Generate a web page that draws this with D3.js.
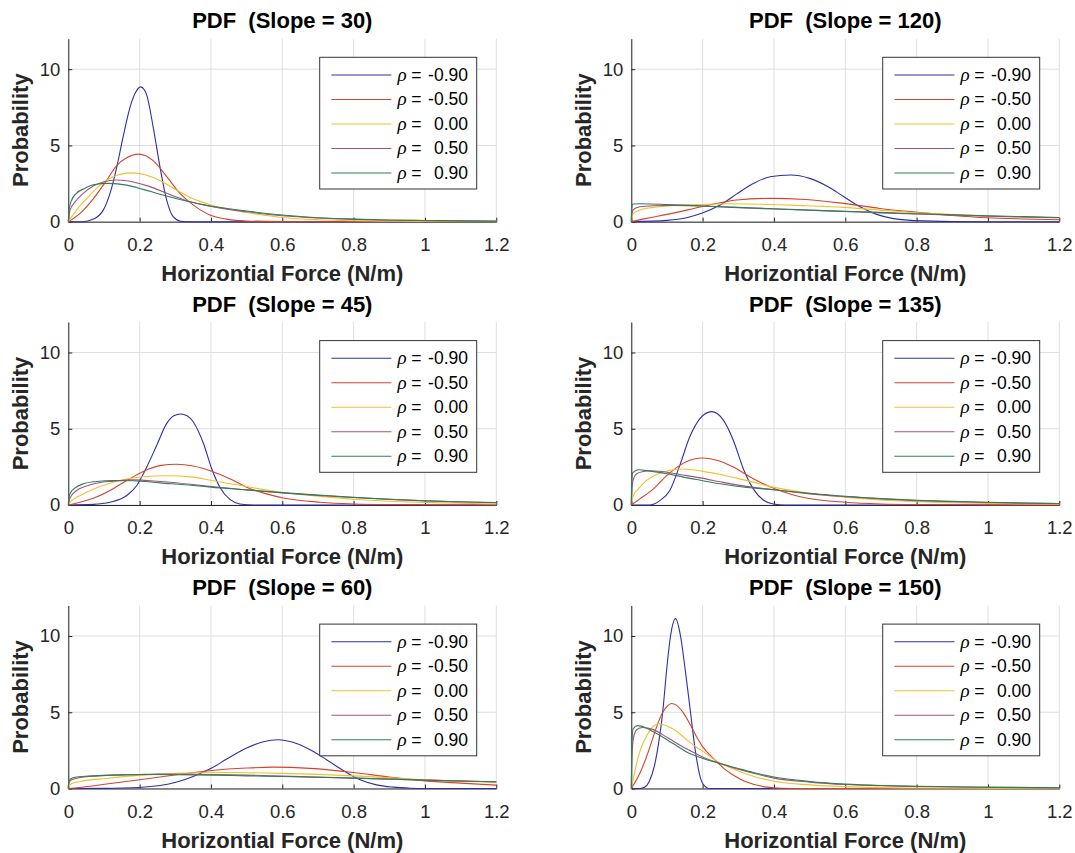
<!DOCTYPE html>
<html>
<head>
<meta charset="utf-8">
<script src="https://cdn.jsdelivr.net/npm/d3@7"></script>
<style>
  body { margin: 0; background: #fff; }
  text { font-family: "Liberation Sans", Arial, sans-serif; }
</style>
</head>
<body>
<div id="chart"></div>
<script>
// panel order: left column then right column, row by row
var slopes = [30, 120, 45, 135, 60, 150];
var rhoLabels = ["-0.90", "-0.50", "0.00", "0.50", "0.90"];
var lineColors = ["#2e2ea8", "#d8432a", "#f0c12c", "#a4507f", "#2f7f56"];
var xTicks = [0, 0.2, 0.4, 0.6, 0.8, 1, 1.2];
var xTickLabels = ["0", "0.2", "0.4", "0.6", "0.8", "1", "1.2"];
var yTicks = [0, 5, 10];
var yTickLabels = ["0", "5", "10"];

// each panel: 5 series ([x, pdf] points), rho = -0.9, -0.5, 0, 0.5, 0.9
var pdf30 = [
  [[0,0],[0.04,0],[0.07,0.17],[0.098,0.76],[0.117,1.86],[0.136,3.6],[0.154,5.6],[0.173,7.5],[0.188,8.45],[0.203,8.84],[0.213,8.65],[0.22,8.3],[0.238,6.2],[0.257,3.6],[0.276,1.4],[0.294,0.33],[0.315,0.03],[0.33,0],[1.2,0]],
  [[0,0],[0.033,0.55],[0.07,1.5],[0.107,2.7],[0.136,3.7],[0.164,4.2],[0.198,4.43],[0.238,4.0],[0.276,2.95],[0.313,1.86],[0.35,1.1],[0.397,0.44],[0.444,0.17],[0.5,0.05],[0.6,0.01],[0.7,0],[1.2,0]],
  [[0,0],[0.023,0.76],[0.051,1.5],[0.089,2.4],[0.126,2.95],[0.178,3.2],[0.22,3.05],[0.257,2.7],[0.304,2.07],[0.35,1.5],[0.4,1.1],[0.5,0.6],[0.6,0.28],[0.7,0.13],[0.8,0.06],[0.9,0.03],[1.0,0.01],[1.2,0]],
  [[0,0],[0.005,0.76],[0.019,1.3],[0.042,1.86],[0.07,2.34],[0.098,2.6],[0.136,2.73],[0.182,2.6],[0.229,2.3],[0.276,1.86],[0.332,1.38],[0.4,1.0],[0.5,0.65],[0.6,0.39],[0.7,0.24],[0.8,0.15],[0.9,0.1],[1.0,0.07],[1.2,0.03]],
  [[0,0],[0.002,0.76],[0.009,1.4],[0.023,1.86],[0.047,2.2],[0.07,2.42],[0.112,2.51],[0.164,2.4],[0.21,2.12],[0.257,1.8],[0.313,1.46],[0.4,1.03],[0.5,0.7],[0.6,0.44],[0.7,0.26],[0.8,0.17],[0.9,0.11],[1.0,0.08],[1.2,0.04]]
];
var pdf120 = [
  [[0,0],[0.1,0.09],[0.155,0.26],[0.197,0.55],[0.249,1.09],[0.295,1.81],[0.342,2.5],[0.389,2.95],[0.447,3.06],[0.5,2.84],[0.548,2.34],[0.596,1.64],[0.641,0.98],[0.688,0.48],[0.735,0.2],[0.796,0.07],[0.9,0.01],[1.0,0],[1.2,0]],
  [[0,0],[0.043,0.22],[0.1,0.48],[0.197,0.98],[0.249,1.24],[0.295,1.42],[0.389,1.53],[0.49,1.46],[0.596,1.2],[0.697,0.87],[0.796,0.63],[0.9,0.41],[0.996,0.26],[1.1,0.18],[1.2,0.13]],
  [[0,0],[0.002,0.3],[0.006,0.55],[0.024,0.76],[0.062,0.94],[0.118,1.05],[0.197,1.13],[0.277,1.18],[0.397,1.13],[0.49,1.05],[0.596,0.94],[0.7,0.76],[0.8,0.59],[0.9,0.48],[1.0,0.37],[1.1,0.31],[1.2,0.26]],
  [[0,0],[0.001,0.45],[0.006,0.8],[0.024,0.98],[0.062,1.05],[0.118,1.07],[0.2,1.03],[0.3,0.92],[0.4,0.83],[0.5,0.75],[0.6,0.67],[0.7,0.58],[0.8,0.5],[0.9,0.43],[1.0,0.36],[1.1,0.31],[1.2,0.26]],
  [[0,0],[0.001,0.9],[0.005,1.16],[0.024,1.18],[0.1,1.13],[0.2,1.03],[0.3,0.94],[0.4,0.85],[0.5,0.76],[0.6,0.68],[0.7,0.61],[0.8,0.52],[0.9,0.46],[1.0,0.39],[1.1,0.33],[1.2,0.28]]
];
var pdf45 = [
  [[0,0],[0.07,0.04],[0.117,0.18],[0.164,0.62],[0.192,1.28],[0.22,2.49],[0.248,3.92],[0.276,5.35],[0.296,5.85],[0.315,5.97],[0.333,5.85],[0.35,5.46],[0.379,4.03],[0.402,2.38],[0.425,1.17],[0.453,0.37],[0.481,0.07],[0.52,0],[1.2,0]],
  [[0,0],[0.033,0.18],[0.07,0.44],[0.117,0.95],[0.164,1.61],[0.21,2.2],[0.257,2.58],[0.304,2.67],[0.35,2.56],[0.402,2.22],[0.453,1.72],[0.5,1.17],[0.556,0.73],[0.603,0.46],[0.706,0.18],[0.8,0.07],[0.9,0.03],[1.0,0.02],[1.2,0.01]],
  [[0,0],[0.005,0.18],[0.014,0.37],[0.033,0.62],[0.07,1.04],[0.117,1.43],[0.164,1.7],[0.21,1.85],[0.276,1.92],[0.35,1.83],[0.402,1.61],[0.5,1.21],[0.6,0.82],[0.7,0.58],[0.8,0.38],[0.9,0.25],[1.0,0.17],[1.1,0.11],[1.2,0.07]],
  [[0,0],[0.002,0.3],[0.009,0.62],[0.023,0.95],[0.047,1.21],[0.079,1.43],[0.126,1.56],[0.182,1.65],[0.257,1.54],[0.35,1.34],[0.4,1.21],[0.5,0.99],[0.6,0.79],[0.7,0.63],[0.8,0.49],[0.9,0.37],[1.0,0.27],[1.1,0.2],[1.2,0.15]],
  [[0,0],[0.002,0.5],[0.007,0.84],[0.019,1.12],[0.042,1.39],[0.079,1.54],[0.126,1.61],[0.182,1.59],[0.257,1.45],[0.35,1.28],[0.4,1.17],[0.5,0.99],[0.6,0.81],[0.7,0.65],[0.8,0.5],[0.9,0.38],[1.0,0.28],[1.1,0.21],[1.2,0.16]]
];
var pdf135 = [
  [[0,0],[0.05,0],[0.08,0.29],[0.108,0.95],[0.136,2.6],[0.164,4.47],[0.193,5.68],[0.225,6.12],[0.258,5.57],[0.286,4.25],[0.314,2.38],[0.342,1.06],[0.37,0.33],[0.398,0.07],[0.43,0],[1.2,0]],
  [[0,0],[0.024,0.4],[0.062,1.06],[0.1,1.94],[0.136,2.6],[0.164,2.93],[0.197,3.08],[0.24,2.93],[0.286,2.49],[0.342,1.72],[0.397,1.12],[0.454,0.66],[0.49,0.46],[0.6,0.18],[0.7,0.07],[0.8,0.03],[1.0,0.01],[1.2,0]],
  [[0,0],[0.002,0.3],[0.006,0.62],[0.02,1.06],[0.043,1.61],[0.071,2.0],[0.108,2.27],[0.146,2.36],[0.197,2.22],[0.249,2.0],[0.295,1.76],[0.342,1.5],[0.397,1.17],[0.5,0.77],[0.6,0.51],[0.7,0.33],[0.8,0.22],[0.9,0.15],[1.0,0.1],[1.1,0.07],[1.2,0.04]],
  [[0,0],[0.001,0.8],[0.006,1.72],[0.015,2.05],[0.034,2.2],[0.052,2.25],[0.09,2.18],[0.136,2.0],[0.197,1.76],[0.249,1.52],[0.295,1.32],[0.4,1.0],[0.5,0.73],[0.6,0.55],[0.7,0.4],[0.8,0.29],[0.9,0.22],[1.0,0.16],[1.1,0.12],[1.2,0.09]],
  [[0,0],[0.001,1.4],[0.004,2.1],[0.02,2.31],[0.052,2.22],[0.1,2.05],[0.146,1.83],[0.197,1.61],[0.249,1.39],[0.295,1.23],[0.4,1.0],[0.5,0.77],[0.6,0.57],[0.7,0.42],[0.8,0.31],[0.9,0.24],[1.0,0.18],[1.1,0.13],[1.2,0.1]]
];
var pdf60 = [
  [[0,0],[0.1,0.01],[0.2,0.07],[0.304,0.42],[0.35,0.79],[0.402,1.34],[0.444,1.93],[0.5,2.65],[0.547,3.07],[0.589,3.2],[0.63,3.03],[0.678,2.54],[0.724,1.89],[0.771,1.18],[0.818,0.57],[0.864,0.24],[0.911,0.09],[0.96,0.02],[1.0,0],[1.2,0]],
  [[0,0],[0.033,0.07],[0.107,0.29],[0.2,0.57],[0.304,0.9],[0.402,1.18],[0.5,1.34],[0.575,1.4],[0.678,1.32],[0.8,1.05],[0.9,0.75],[1.0,0.5],[1.1,0.35],[1.2,0.22]],
  [[0,0],[0.002,0.15],[0.009,0.31],[0.033,0.46],[0.107,0.66],[0.2,0.86],[0.304,0.99],[0.444,1.05],[0.6,0.99],[0.8,0.83],[1.0,0.57],[1.2,0.4]],
  [[0,0],[0.001,0.3],[0.009,0.57],[0.033,0.72],[0.107,0.86],[0.2,0.92],[0.257,0.94],[0.4,0.92],[0.5,0.88],[0.6,0.81],[0.8,0.68],[1.0,0.55],[1.2,0.44]],
  [[0,0],[0.001,0.4],[0.005,0.61],[0.023,0.75],[0.07,0.83],[0.164,0.9],[0.22,0.92],[0.4,0.88],[0.5,0.83],[0.6,0.79],[0.8,0.68],[1.0,0.55],[1.2,0.44]]
];
var pdf150 = [
  [[0,0],[0.025,0],[0.037,0.08],[0.05,0.45],[0.065,1.5],[0.078,3.2],[0.088,5],[0.1,8],[0.11,10],[0.124,11.14],[0.138,10],[0.15,8],[0.166,5],[0.18,2.4],[0.195,0.6],[0.206,0.15],[0.216,0],[1.2,0]],
  [[0,0],[0.024,1.0],[0.043,2.1],[0.062,3.42],[0.08,4.6],[0.099,5.35],[0.113,5.57],[0.127,5.45],[0.146,4.96],[0.165,4.2],[0.183,3.4],[0.2,2.75],[0.22,2.2],[0.24,1.75],[0.26,1.3],[0.286,0.88],[0.31,0.55],[0.342,0.28],[0.38,0.09],[0.42,0.02],[0.5,0],[1.2,0]],
  [[0,0],[0.007,0.79],[0.015,1.67],[0.029,2.76],[0.043,3.46],[0.062,4.08],[0.077,4.25],[0.1,4.1],[0.127,3.75],[0.155,3.2],[0.183,2.7],[0.2,2.45],[0.239,1.8],[0.295,1.2],[0.342,0.8],[0.4,0.48],[0.5,0.24],[0.6,0.12],[0.7,0.06],[0.8,0.03],[1.0,0.01],[1.2,0]],
  [[0,0],[0.001,1.5],[0.006,3.3],[0.015,3.85],[0.032,4.0],[0.062,3.86],[0.09,3.5],[0.118,3.1],[0.155,2.6],[0.197,2.1],[0.239,1.72],[0.295,1.3],[0.342,1.0],[0.4,0.68],[0.5,0.42],[0.6,0.26],[0.7,0.18],[0.8,0.13],[1.0,0.07],[1.2,0.04]],
  [[0,0],[0.001,2.5],[0.005,3.9],[0.017,4.12],[0.043,3.95],[0.071,3.6],[0.1,3.2],[0.127,2.8],[0.155,2.4],[0.197,2.0],[0.239,1.7],[0.295,1.35],[0.342,1.05],[0.4,0.75],[0.5,0.46],[0.6,0.29],[0.7,0.2],[0.8,0.15],[1.0,0.09],[1.2,0.05]]
];
var panelData = [pdf30, pdf120, pdf45, pdf135, pdf60, pdf150];

var width = 1075, height = 853;
var plotW = 428, plotH = 183;
var colX = [68.3, 631.3];
var rowY = [38.7, 322, 605.5];
var axisColor = "#262626";

var svg = d3.select("#chart")
    .append("svg")
    .attr("width", width)
    .attr("height", height);

var x = d3.scaleLinear().domain([0, 1.2]).range([0, plotW]);
var y = d3.scaleLinear().domain([0, 12]).range([plotH, 0]);

var line = d3.line()
    .x(function(d) { return x(d[0]); })
    .y(function(d) { return y(d[1]); })
    .curve(d3.curveMonotoneX);

slopes.forEach(function(slope, p) {
    var g = svg.append("g")
        .attr("transform", "translate(" + colX[p % 2] + "," + rowY[Math.floor(p / 2)] + ")");

    // grid
    g.selectAll(".gx").data(xTicks).enter().append("line")
        .attr("x1", function(d) { return x(d); }).attr("x2", function(d) { return x(d); })
        .attr("y1", 0).attr("y2", plotH)
        .attr("stroke", "#dfdfdf").attr("stroke-width", 1);
    g.selectAll(".gy").data(yTicks).enter().append("line")
        .attr("x1", 0).attr("x2", plotW)
        .attr("y1", function(d) { return y(d); }).attr("y2", function(d) { return y(d); })
        .attr("stroke", "#dfdfdf").attr("stroke-width", 1);

    // axes, ticks pointing inward
    var xAxis = g.append("g")
        .attr("transform", "translate(0," + plotH + ")")
        .call(d3.axisBottom(x).tickValues(xTicks).tickSizeInner(-4).tickSizeOuter(0).tickPadding(16)
            .tickFormat(function(d, i) { return xTickLabels[i]; }));
    var yAxis = g.append("g")
        .call(d3.axisLeft(y).tickValues(yTicks).tickSizeInner(-4).tickSizeOuter(0).tickPadding(8)
            .tickFormat(function(d, i) { return yTickLabels[i]; }));
    [xAxis, yAxis].forEach(function(a) {
        a.select(".domain").attr("stroke", axisColor);
        a.selectAll(".tick line").attr("stroke", axisColor);
        a.selectAll(".tick text")
            .attr("fill", axisColor)
            .style("font-size", "18.5px")
            .style("font-family", "'Liberation Sans', Arial, sans-serif");
    });

    // curves
    panelData[p].forEach(function(series, i) {
        g.append("path")
            .datum(series)
            .attr("d", line)
            .attr("fill", "none")
            .attr("stroke", lineColors[i])
            .attr("stroke-width", 1.1);
    });

    // title and labels
    g.append("text")
        .attr("x", plotW / 2).attr("y", -10.5)
        .attr("text-anchor", "middle")
        .style("white-space", "pre")
        .style("font-size", "22px").style("font-weight", "bold")
        .attr("fill", "#000")
        .text("PDF  (Slope = " + slope + ")");
    g.append("text")
        .attr("x", plotW / 2).attr("y", plotH + 59)
        .attr("text-anchor", "middle")
        .style("font-size", "22px").style("font-weight", "bold")
        .attr("fill", axisColor)
        .text("Horizontial Force (N/m)");
    g.append("text")
        .attr("transform", "translate(-40," + (plotH / 2) + ") rotate(-90)")
        .attr("text-anchor", "middle")
        .style("font-size", "22px").style("font-weight", "bold")
        .attr("fill", axisColor)
        .text("Probability");

    // legend
    var lg = g.append("g").attr("transform", "translate(" + (plotW - 19.6 - 157) + ",18.6)");
    lg.append("rect")
        .attr("width", 157).attr("height", 131.7)
        .attr("fill", "#fff").attr("stroke", "#333").attr("stroke-width", 1);
    rhoLabels.forEach(function(lab, i) {
        var cy = 17.7 + i * 24.5;
        lg.append("line")
            .attr("x1", 11.7).attr("x2", 71.7).attr("y1", cy).attr("y2", cy)
            .attr("stroke", lineColors[i]).attr("stroke-width", 1.1);
        var t = lg.append("text")
            .attr("x", 77.7).attr("y", cy + 6)
            .style("font-size", "17.5px").attr("fill", "#000");
        t.append("tspan")
            .style("font-family", "'Liberation Serif', 'Times New Roman', serif")
            .style("font-style", "italic").style("font-size", "19px")
            .text("\u03c1");
        t.append("tspan").text(" =");
        lg.append("text")
            .attr("x", 148.3).attr("y", cy + 6)
            .attr("text-anchor", "end")
            .style("font-size", "17.5px").attr("fill", "#000")
            .text(lab);
    });
});
</script>
</body>
</html>
